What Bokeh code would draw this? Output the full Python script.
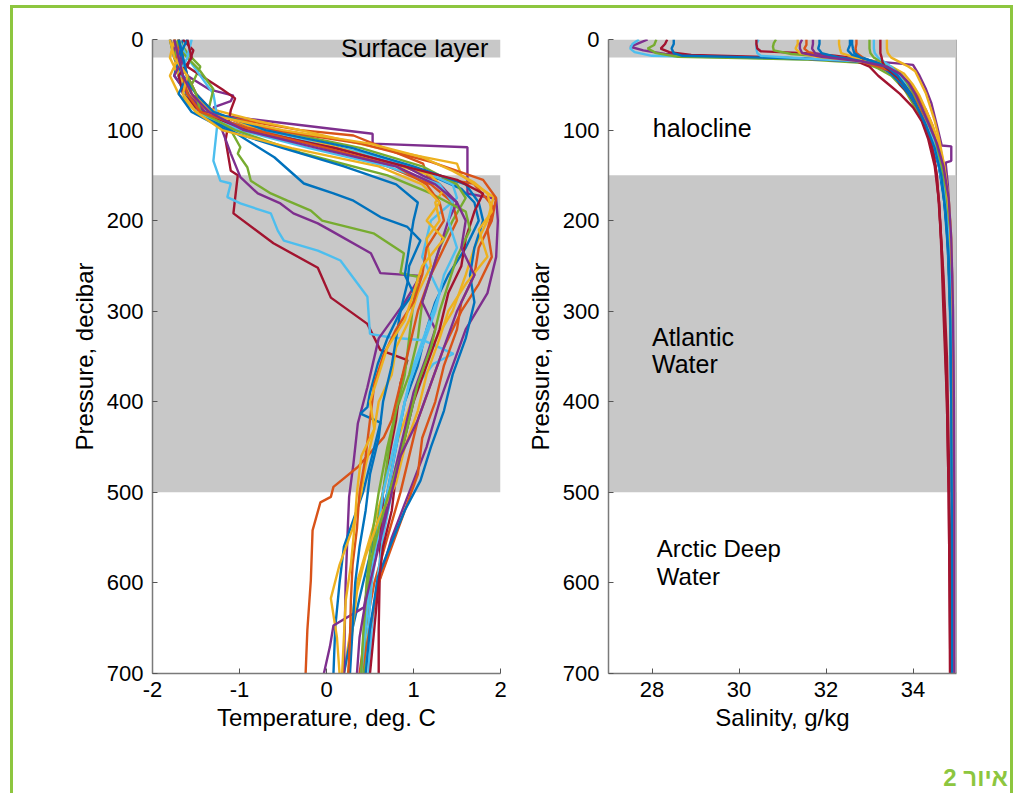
from bokeh.plotting import figure
from bokeh.models import Range1d, BoxAnnotation, Label, FixedTicker, Span, Div, PrintfTickFormatter
from bokeh.layouts import row, column
from bokeh.embed import file_html
from bokeh.resources import INLINE

# ---------------- DATA ----------------
# MATLAB default colour order
BLUE, RED, YELLOW, PURPLE, GREEN, CYAN, DARKRED = (
    "#0072BD", "#D95319", "#EDB120", "#7E2F8E", "#77AC30", "#4DBEEE", "#A2142F")

temp_ticks = [-2, -1, 0, 1, 2]
sal_ticks = [28, 30, 32, 34]
pressure_ticks = [0, 100, 200, 300, 400, 500, 600, 700]

# Temperature profiles (pressure in decibar, temperature in deg C)
t01_p = [0, 10, 25, 40, 55, 62, 68, 75, 84, 104, 115, 119, 170, 176, 200, 240, 280, 320, 360, 400, 450, 500, 550, 600, 650, 700]
t01_t = [-1.75, -1.72, -1.65, -1.6, -1.35, -1.07, -1.1, -1.3, -1.22, 0.53, 0.53, 1.62, 1.62, 1.95, 1.97, 1.95, 1.85, 1.6, 1.45, 1.3, 1.15, 0.95, 0.75, 0.6, 0.5, 0.42]
t02_p = [0, 15, 30, 50, 70, 85, 100, 106, 137, 152, 159, 185, 210, 240, 270, 300, 340, 380, 420, 460, 500, 550, 600, 650, 700]
t02_t = [-1.7, -1.75, -1.72, -1.62, -1.55, -1.2, -0.3, 0.31, 1.11, 1.16, 1.69, 1.92, 1.85, 1.9, 1.75, 1.55, 1.35, 1.2, 1.05, 0.95, 0.85, 0.7, 0.55, 0.45, 0.38]
t03_p = [0, 20, 40, 60, 75, 90, 100, 120, 137, 150, 174, 200, 230, 260, 300, 340, 380, 420, 460, 500, 550, 600, 650, 700]
t03_t = [-1.8, -1.75, -1.7, -1.6, -1.4, -0.8, -0.3, 0.6, 1.5, 1.55, 1.92, 1.85, 1.7, 1.6, 1.45, 1.2, 1.05, 0.9, 0.75, 0.65, 0.5, 0.35, 0.28, 0.2]
t04_p = [0, 20, 40, 60, 80, 95, 110, 130, 150, 165, 180, 200, 230, 260, 290, 320, 360, 400, 450, 500, 550, 600, 650, 700]
t04_t = [-1.65, -1.7, -1.75, -1.6, -1.45, -1.0, -0.3, 0.6, 1.2, 1.55, 1.7, 1.75, 1.6, 1.4, 1.25, 1.15, 1.05, 0.9, 0.8, 0.7, 0.55, 0.42, 0.3, 0.2]
t05_p = [0, 20, 45, 70, 90, 105, 125, 145, 160, 175, 200, 240, 280, 320, 360, 400, 450, 500, 550, 600, 650, 700]
t05_t = [-1.6, -1.55, -1.7, -1.55, -1.2, -0.5, 0.4, 1.1, 1.45, 1.5, 1.2, 1.1, 1.3, 1.15, 1.0, 0.9, 0.8, 0.7, 0.6, 0.52, 0.48, 0.45]
t06_p = [0, 15, 30, 50, 65, 80, 100, 120, 140, 160, 175, 200, 230, 260, 290, 330, 370, 410, 450, 500, 550, 600, 650, 700]
t06_t = [-1.7, -1.6, -1.45, -1.55, -1.65, -1.4, -0.6, 0.4, 1.1, 1.5, 1.6, 1.45, 1.3, 1.2, 1.1, 1.05, 0.95, 0.8, 0.7, 0.6, 0.52, 0.46, 0.43, 0.4]
t07_p = [0, 12, 30, 55, 65, 78, 111, 145, 150, 192, 225, 252, 285, 314, 343, 354, 380, 420, 460, 500, 550, 600, 650, 700]
t07_t = [-1.65, -1.53, -1.6, -1.2, -1.05, -1.1, -1.16, -1.1, -1.02, -1.07, -0.61, -0.1, 0.05, 0.47, 0.62, 0.93, 0.85, 0.8, 0.72, 0.65, 0.62, 0.61, 0.6, 0.6]
t08_p = [0, 20, 40, 60, 89, 134, 156, 159, 174, 181, 192, 211, 222, 233, 244, 284, 325, 329, 332, 347, 358, 380, 420, 460, 500, 550, 600, 650, 700]
t08_t = [-1.7, -1.6, -1.45, -1.3, -1.25, -1.3, -1.22, -1.1, -1.14, -0.99, -0.64, -0.56, -0.49, -0.1, 0.16, 0.47, 0.5, 0.74, 1.11, 1.46, 1.23, 1.05, 0.95, 0.85, 0.75, 0.65, 0.58, 0.52, 0.48]
t09_p = [0, 20, 40, 60, 80, 100, 126, 152, 170, 181, 192, 203, 211, 236, 258, 261, 290, 330, 384, 424, 468, 505, 550, 600, 650, 700]
t09_t = [-1.8, -1.7, -1.6, -1.5, -1.35, -1.2, -1.1, -0.99, -0.79, -0.53, -0.38, -0.1, 0.05, 0.51, 0.62, 1.08, 0.9, 0.6, 0.47, 0.36, 0.31, 0.26, 0.24, 0.22, 0.21, 0.2]
t10_p = [0, 15, 35, 55, 75, 100, 119, 126, 141, 156, 170, 178, 189, 200, 214, 236, 258, 262, 290, 330, 370, 410, 450, 500, 550, 600, 650, 700]
t10_t = [-1.75, -1.65, -1.45, -1.3, -1.35, -1.1, -0.99, -1.02, -0.91, -0.87, -0.64, -0.45, -0.18, -0.05, 0.54, 0.89, 0.85, 1.05, 1.0, 0.95, 0.9, 0.8, 0.72, 0.65, 0.55, 0.5, 0.45, 0.43]
t11_p = [0, 20, 40, 60, 80, 100, 120, 140, 160, 180, 200, 230, 260, 300, 340, 380, 420, 439, 472, 494, 505, 511, 542, 597, 652, 700]
t11_t = [-1.7, -1.65, -1.6, -1.5, -1.3, -0.8, 0.0, 0.7, 1.2, 1.45, 1.5, 1.35, 1.2, 1.05, 0.95, 0.85, 0.75, 0.66, 0.36, 0.08, 0.05, -0.07, -0.16, -0.18, -0.22, -0.24]
t12_p = [0, 20, 40, 60, 80, 100, 130, 159, 170, 178, 196, 207, 222, 250, 269, 300, 330, 358, 390, 406, 413, 423, 450, 500, 560, 600, 650, 700]
t12_t = [-1.8, -1.75, -1.65, -1.6, -1.5, -1.1, -0.6, -0.26, 0.08, 0.31, 0.62, 0.93, 1.08, 0.95, 0.93, 0.85, 0.7, 0.59, 0.5, 0.47, 0.39, 0.62, 0.55, 0.42, 0.2, 0.15, 0.1, 0.08]
t13_p = [0, 20, 40, 60, 80, 95, 110, 130, 150, 165, 180, 200, 220, 250, 280, 310, 340, 370, 400, 430, 470, 500, 540, 580, 617, 660, 700]
t13_t = [-1.75, -1.8, -1.7, -1.55, -1.3, -0.9, -0.2, 0.5, 1.2, 1.35, 1.25, 1.3, 1.15, 1.2, 1.05, 0.95, 0.8, 0.75, 0.6, 0.55, 0.45, 0.4, 0.3, 0.15, 0.05, 0.12, 0.15]
t14_p = [0, 20, 40, 60, 80, 100, 115, 135, 155, 175, 200, 230, 260, 290, 320, 360, 400, 440, 480, 520, 560, 600, 650, 700]
t14_t = [-1.7, -1.72, -1.6, -1.55, -1.4, -0.6, 0.4, 1.2, 1.8, 1.95, 1.9, 1.75, 1.7, 1.55, 1.5, 1.35, 1.25, 1.1, 1.05, 0.9, 0.75, 0.6, 0.5, 0.4]
t15_p = [0, 20, 40, 60, 80, 100, 120, 140, 160, 180, 200, 230, 260, 290, 330, 370, 410, 450, 487, 520, 557, 594, 650, 700]
t15_t = [-1.6, -1.7, -1.65, -1.5, -1.3, -0.7, 0.3, 1.0, 1.6, 1.75, 1.8, 1.7, 1.65, 1.7, 1.6, 1.45, 1.35, 1.2, 1.08, 0.9, 0.74, 0.59, 0.5, 0.45]
t16_p = [0, 20, 40, 60, 80, 100, 120, 140, 160, 180, 200, 230, 260, 290, 320, 350, 390, 430, 470, 510, 550, 590, 627, 647, 670, 700]
t16_t = [-1.7, -1.65, -1.75, -1.6, -1.4, -1.0, 0.1, 0.9, 1.3, 1.5, 1.4, 1.3, 1.2, 1.1, 1.25, 1.15, 1.0, 0.9, 0.8, 0.7, 0.62, 0.5, 0.43, 0.08, 0.04, -0.03]
t17_p = [0, 20, 40, 60, 80, 100, 120, 140, 160, 180, 200, 230, 260, 300, 340, 380, 420, 460, 500, 550, 600, 650, 700]
t17_t = [-1.55, -1.6, -1.7, -1.65, -1.5, -1.0, -0.2, 0.7, 1.3, 1.45, 1.4, 1.5, 1.35, 1.25, 1.1, 0.95, 0.85, 0.75, 0.65, 0.58, 0.5, 0.45, 0.4]
t18_p = [0, 20, 40, 60, 80, 100, 120, 140, 155, 170, 190, 220, 250, 280, 320, 360, 400, 440, 480, 520, 560, 600, 650, 700]
t18_t = [-1.6, -1.55, -1.7, -1.65, -1.45, -0.9, 0.1, 0.9, 1.5, 1.8, 1.7, 1.6, 1.55, 1.4, 1.3, 1.15, 1.0, 0.9, 0.8, 0.75, 0.65, 0.6, 0.55, 0.5]
t19_p = [0, 20, 40, 60, 80, 100, 115, 130, 145, 158, 170, 190, 210, 240, 270, 300, 330, 370, 410, 450, 490, 530, 570, 610, 650, 700]
t19_t = [-1.75, -1.7, -1.8, -1.7, -1.5, -0.5, 0.5, 1.1, 1.45, 1.7, 1.85, 1.9, 1.75, 1.85, 1.6, 1.4, 1.3, 1.15, 1.05, 0.9, 0.8, 0.6, 0.45, 0.35, 0.3, 0.25]
t20_p = [0, 20, 40, 60, 80, 100, 125, 150, 170, 190, 210, 240, 270, 300, 340, 380, 420, 460, 500, 540, 580, 620, 660, 700]
t20_t = [-1.7, -1.75, -1.6, -1.5, -1.45, -1.05, -0.3, 0.7, 1.2, 1.6, 1.65, 1.5, 1.4, 1.3, 1.2, 1.05, 0.95, 0.85, 0.72, 0.6, 0.5, 0.45, 0.42, 0.4]
t21_p = [0, 20, 40, 60, 80, 100, 120, 140, 160, 180, 200, 230, 260, 280, 300, 330, 360, 400, 440, 480, 520, 560, 600, 650, 700]
t21_t = [-1.7, -1.65, -1.6, -1.7, -1.55, -1.15, -0.5, 0.2, 0.8, 1.05, 1.0, 0.95, 0.9, 1.0, 0.85, 0.8, 0.75, 0.65, 0.6, 0.5, 0.45, 0.38, 0.33, 0.3, 0.27]
t22_p = [0, 20, 40, 60, 80, 100, 120, 140, 160, 180, 200, 230, 260, 290, 320, 350, 380, 420, 460, 500, 540, 580, 620, 660, 700]
t22_t = [-1.75, -1.7, -1.65, -1.6, -1.45, -0.85, 0.0, 0.8, 1.15, 1.3, 1.35, 1.15, 1.1, 1.0, 0.8, 0.65, 0.55, 0.5, 0.45, 0.38, 0.35, 0.3, 0.28, 0.27, 0.25]
t23_p = [0, 20, 40, 60, 80, 100, 120, 140, 160, 180, 200, 220, 250, 280, 310, 340, 370, 400, 430, 460, 500, 540, 580, 620, 660, 700]
t23_t = [-1.8, -1.75, -1.6, -1.65, -1.5, -1.2, -0.4, 0.6, 1.1, 1.3, 1.15, 1.35, 1.1, 1.0, 0.9, 0.7, 0.6, 0.5, 0.55, 0.4, 0.35, 0.32, 0.28, 0.22, 0.2, 0.18]
t24_p = [0, 20, 40, 60, 80, 100, 120, 140, 160, 180, 200, 230, 260, 300, 340, 380, 420, 460, 500, 540, 580, 620, 660, 700]
t24_t = [-1.75, -1.7, -1.65, -1.55, -1.35, -0.95, -0.1, 0.8, 1.25, 1.5, 1.6, 1.55, 1.7, 1.5, 1.35, 1.2, 1.05, 0.85, 0.75, 0.65, 0.55, 0.45, 0.38, 0.35]

temp_profiles = [
    (t01_p, t01_t, PURPLE), (t02_p, t02_t, RED), (t03_p, t03_t, YELLOW), (t04_p, t04_t, BLUE),
    (t05_p, t05_t, CYAN), (t06_p, t06_t, GREEN), (t07_p, t07_t, DARKRED), (t08_p, t08_t, CYAN),
    (t09_p, t09_t, PURPLE), (t10_p, t10_t, GREEN), (t11_p, t11_t, RED), (t12_p, t12_t, BLUE),
    (t13_p, t13_t, YELLOW), (t14_p, t14_t, RED), (t15_p, t15_t, BLUE), (t16_p, t16_t, PURPLE),
    (t17_p, t17_t, CYAN), (t18_p, t18_t, DARKRED), (t19_p, t19_t, YELLOW), (t20_p, t20_t, GREEN),
    (t21_p, t21_t, BLUE), (t22_p, t22_t, RED), (t23_p, t23_t, YELLOW), (t24_p, t24_t, PURPLE),
]

# Salinity profiles (pressure in decibar, salinity in g/kg)
s01_p = [0, 4, 8, 12, 16, 19, 22, 26, 32, 40, 55, 70, 90, 110, 140, 180, 230, 300, 400, 500, 600, 700]
s01_s = [27.9, 27.7, 27.5, 27.8, 28.3, 29.5, 32.0, 33.0, 33.3, 33.6, 33.9, 34.1, 34.3, 34.5, 34.65, 34.75, 34.82, 34.86, 34.88, 34.9, 34.91, 34.92]
s02_p = [0, 5, 10, 14, 18, 20, 23, 28, 35, 45, 60, 80, 100, 130, 170, 220, 300, 400, 500, 600, 700]
s02_s = [27.7, 27.55, 27.5, 27.6, 28.0, 30.0, 32.5, 33.2, 33.5, 33.7, 33.95, 34.15, 34.35, 34.55, 34.7, 34.8, 34.86, 34.88, 34.9, 34.91, 34.92]
s03_p = [0, 6, 10, 15, 19, 22, 26, 32, 40, 55, 75, 95, 120, 150, 200, 260, 330, 450, 550, 700]
s03_s = [28.1, 28.05, 27.9, 28.1, 28.6, 31.5, 32.9, 33.2, 33.5, 33.8, 34.05, 34.3, 34.5, 34.65, 34.78, 34.84, 34.87, 34.9, 34.91, 34.92]
s04_p = [0, 5, 10, 14, 17, 20, 24, 30, 40, 50, 60, 75, 90, 110, 140, 180, 230, 300, 400, 500, 600, 700]
s04_s = [28.35, 28.3, 28.2, 28.4, 28.9, 31.0, 32.7, 33.0, 33.2, 33.45, 33.7, 34.0, 34.2, 34.35, 34.5, 34.6, 34.65, 34.7, 34.78, 34.82, 34.84, 34.85]
s05_p = [0, 5, 10, 15, 18, 21, 25, 30, 40, 55, 70, 90, 110, 140, 180, 230, 300, 400, 500, 600, 700]
s05_s = [28.5, 28.5, 28.45, 28.5, 28.7, 31.5, 33.0, 33.3, 33.55, 33.85, 34.05, 34.25, 34.4, 34.6, 34.72, 34.8, 34.85, 34.88, 34.9, 34.9, 34.91]
s06_p = [0, 5, 10, 15, 18, 21, 24, 28, 35, 45, 60, 80, 100, 125, 160, 210, 280, 400, 500, 600, 700]
s06_s = [30.45, 30.4, 30.4, 30.42, 30.5, 31.5, 32.8, 33.3, 33.55, 33.8, 34.0, 34.2, 34.4, 34.55, 34.7, 34.8, 34.85, 34.88, 34.9, 34.91, 34.91]
s07_p = [0, 5, 10, 13, 15, 18, 22, 26, 32, 40, 50, 60, 75, 95, 120, 150, 200, 260, 350, 450, 550, 700]
s07_s = [30.4, 30.4, 30.42, 30.5, 31.5, 32.2, 32.9, 33.3, 33.5, 33.6, 33.7, 33.9, 34.1, 34.3, 34.45, 34.55, 34.62, 34.7, 34.78, 34.82, 34.85, 34.86]
s08_p = [0, 4, 8, 12, 16, 20, 25, 30, 38, 48, 60, 80, 100, 130, 170, 220, 300, 400, 500, 600, 700]
s08_s = [30.85, 30.8, 30.78, 30.8, 31.2, 32.3, 33.1, 33.4, 33.6, 33.85, 34.0, 34.25, 34.45, 34.6, 34.72, 34.8, 34.86, 34.89, 34.9, 34.91, 34.92]
s09_p = [0, 5, 10, 15, 19, 23, 28, 35, 45, 55, 70, 90, 110, 140, 180, 230, 300, 400, 500, 600, 700]
s09_s = [31.35, 31.35, 31.3, 31.4, 31.8, 32.6, 33.3, 33.6, 33.85, 34.05, 34.2, 34.35, 34.5, 34.65, 34.78, 34.85, 34.88, 34.9, 34.91, 34.92, 34.92]
s10_p = [0, 6, 10, 14, 18, 22, 27, 33, 40, 50, 62, 78, 95, 120, 150, 200, 260, 350, 450, 550, 700]
s10_s = [31.55, 31.55, 31.5, 31.6, 32.0, 32.7, 33.3, 33.55, 33.75, 33.95, 34.1, 34.3, 34.45, 34.6, 34.72, 34.82, 34.87, 34.9, 34.9, 34.91, 34.91]
s11_p = [0, 5, 10, 15, 19, 23, 28, 40, 55, 70, 95, 105, 117, 118, 134, 136, 160, 200, 260, 350, 450, 550, 700]
s11_s = [31.7, 31.7, 31.68, 31.75, 32.2, 32.9, 34.0, 34.15, 34.3, 34.42, 34.55, 34.6, 34.66, 34.88, 34.88, 34.75, 34.8, 34.85, 34.9, 34.92, 34.93, 34.93, 34.94]
s12_p = [0, 5, 10, 15, 20, 24, 30, 38, 48, 60, 75, 95, 115, 140, 170, 210, 270, 350, 450, 550, 700]
s12_s = [31.85, 31.85, 31.82, 31.9, 32.3, 32.9, 33.3, 33.5, 33.7, 33.9, 34.1, 34.3, 34.45, 34.6, 34.7, 34.78, 34.84, 34.88, 34.9, 34.9, 34.91]
s13_p = [0, 5, 10, 15, 19, 24, 30, 38, 50, 62, 78, 95, 115, 140, 175, 220, 290, 400, 500, 600, 700]
s13_s = [32.3, 32.3, 32.32, 32.35, 32.6, 33.1, 33.5, 33.8, 34.0, 34.15, 34.3, 34.45, 34.6, 34.72, 34.82, 34.88, 34.9, 34.92, 34.92, 34.93, 34.93]
s14_p = [0, 6, 12, 17, 21, 26, 33, 40, 50, 62, 78, 100, 125, 150, 190, 240, 320, 420, 520, 620, 700]
s14_s = [32.55, 32.55, 32.5, 32.6, 32.9, 33.2, 33.45, 33.6, 33.75, 33.95, 34.15, 34.35, 34.55, 34.68, 34.78, 34.84, 34.88, 34.9, 34.9, 34.91, 34.91]
s15_p = [0, 5, 10, 15, 20, 25, 30, 35, 45, 55, 70, 90, 110, 135, 165, 210, 270, 360, 460, 560, 700]
s15_s = [32.7, 32.7, 32.68, 32.7, 32.85, 32.85, 33.2, 33.5, 33.7, 33.9, 34.1, 34.3, 34.45, 34.6, 34.72, 34.8, 34.86, 34.88, 34.9, 34.9, 34.91]
s16_p = [0, 5, 10, 15, 20, 25, 32, 40, 50, 62, 78, 95, 115, 140, 175, 220, 290, 400, 500, 600, 700]
s16_s = [33.0, 33.0, 33.0, 33.02, 33.1, 33.3, 33.55, 33.75, 33.9, 34.05, 34.22, 34.38, 34.52, 34.65, 34.76, 34.83, 34.87, 34.9, 34.9, 34.91, 34.91]
s17_p = [0, 5, 10, 15, 20, 25, 30, 38, 48, 60, 75, 92, 110, 135, 165, 210, 280, 380, 480, 580, 700]
s17_s = [33.1, 33.1, 33.1, 33.12, 33.2, 33.35, 33.5, 33.65, 33.8, 33.95, 34.1, 34.28, 34.45, 34.58, 34.7, 34.8, 34.86, 34.89, 34.9, 34.91, 34.92]
s18_p = [0, 5, 10, 15, 20, 25, 30, 36, 42, 50, 60, 75, 90, 110, 140, 180, 230, 300, 400, 500, 600, 700]
s18_s = [33.25, 33.25, 33.25, 33.25, 33.28, 33.3, 33.35, 33.5, 33.65, 33.8, 33.95, 34.1, 34.25, 34.4, 34.52, 34.6, 34.66, 34.72, 34.78, 34.82, 34.84, 34.86]
s19_p = [0, 5, 10, 15, 20, 25, 30, 35, 40, 50, 60, 75, 90, 110, 135, 165, 200, 260, 350, 450, 550, 700]
s19_s = [33.4, 33.4, 33.4, 33.42, 33.5, 33.7, 33.9, 34.05, 34.1, 34.2, 34.3, 34.4, 34.5, 34.6, 34.7, 34.78, 34.85, 34.9, 34.92, 34.93, 34.93, 34.94]
s20_p = [0, 5, 10, 15, 20, 26, 32, 40, 50, 60, 75, 95, 120, 150, 190, 240, 310, 400, 500, 600, 700]
s20_s = [32.6, 32.6, 32.62, 32.65, 32.8, 33.2, 33.45, 33.65, 33.8, 33.95, 34.1, 34.3, 34.5, 34.65, 34.75, 34.82, 34.86, 34.88, 34.89, 34.9, 34.9]
s21_p = [0, 5, 10, 15, 19, 24, 30, 38, 48, 60, 75, 95, 115, 140, 175, 220, 300, 400, 500, 600, 700]
s21_s = [31.45, 31.4, 31.4, 31.45, 31.9, 32.8, 33.4, 33.7, 33.9, 34.05, 34.2, 34.38, 34.55, 34.7, 34.82, 34.88, 34.92, 34.94, 34.95, 34.95, 34.95]

sal_profiles = [
    (s01_p, s01_s, PURPLE), (s02_p, s02_s, CYAN), (s03_p, s03_s, GREEN), (s04_p, s04_s, DARKRED),
    (s05_p, s05_s, BLUE), (s06_p, s06_s, CYAN), (s07_p, s07_s, DARKRED), (s08_p, s08_s, GREEN),
    (s09_p, s09_s, YELLOW), (s10_p, s10_s, RED), (s11_p, s11_s, PURPLE), (s12_p, s12_s, BLUE),
    (s13_p, s13_s, YELLOW), (s14_p, s14_s, BLUE), (s15_p, s15_s, RED), (s16_p, s16_s, GREEN),
    (s17_p, s17_s, CYAN), (s18_p, s18_s, DARKRED), (s19_p, s19_s, YELLOW), (s20_p, s20_s, BLUE),
    (s21_p, s21_s, PURPLE),
]

surface_layer = (0, 20)
atlantic_layer = (150, 500)
caption = "איור 2"

# ---------------- STYLE ----------------
FONT = "Liberation Sans"
BAND = "#c8c8c8"
FRAME_GREEN = "#8DC63F"
LINE_W = 2.4


def style_axes(p, xticks, xlabel):
    p.xaxis.ticker = FixedTicker(ticks=xticks)
    p.yaxis.ticker = FixedTicker(ticks=pressure_ticks)
    p.xaxis.formatter = PrintfTickFormatter(format="%d")
    p.yaxis.formatter = PrintfTickFormatter(format="%d")
    p.xaxis.axis_label = xlabel
    p.yaxis.axis_label = "Pressure, decibar"
    for ax in (p.xaxis[0], p.yaxis[0]):
        ax.axis_line_color = "#7a7a7a"
        ax.axis_line_width = 1.5
        ax.major_tick_line_color = "#555555"
        ax.major_tick_in = 5
        ax.major_tick_out = 0
        ax.minor_tick_line_color = None
        ax.major_label_text_font = FONT
        ax.major_label_text_font_size = "22px"
        ax.major_label_text_color = "black"
        ax.axis_label_text_font = FONT
        ax.axis_label_text_font_size = "24px"
        ax.axis_label_text_font_style = "normal"
        ax.axis_label_text_color = "black"
    p.xaxis.major_label_standoff = 8
    p.xaxis.axis_label_standoff = 4
    p.yaxis.major_label_standoff = 9
    p.yaxis.axis_label_standoff = 6
    p.xgrid.visible = False
    p.ygrid.visible = False
    p.outline_line_color = None
    p.background_fill_color = "white"
    p.border_fill_color = "white"


def add_bands(p):
    for top, bottom in (surface_layer, atlantic_layer):
        p.add_layout(BoxAnnotation(top=top, bottom=bottom, fill_color=BAND, fill_alpha=1.0,
                                   line_color=None, level="underlay"))


def add_label(p, x, y, text, size="25px", align="left"):
    p.add_layout(Label(x=x, y=y, text=text, text_font=FONT, text_font_size=size,
                       text_align=align, text_baseline="middle", text_color="black"))


# ---------------- LEFT: TEMPERATURE ----------------
p1 = figure(width=500, height=755, x_range=Range1d(-2, 2), y_range=Range1d(700, 0),
            output_backend="svg", toolbar_location=None,
            min_border_left=139, min_border_right=13, min_border_top=31, min_border_bottom=90)
style_axes(p1, temp_ticks, "Temperature, deg. C")
add_bands(p1)
for pp, tt, col in temp_profiles:
    p1.line(x=tt, y=pp, line_color=col, line_width=LINE_W)
add_label(p1, 1.86, 9, "Surface layer", align="right")

# ---------------- RIGHT: SALINITY ----------------
p2 = figure(width=497, height=755, x_range=Range1d(27, 35), y_range=Range1d(700, 0),
            output_backend="svg", toolbar_location=None,
            min_border_left=95, min_border_right=54, min_border_top=31, min_border_bottom=90)
style_axes(p2, sal_ticks, "Salinity, g/kg")
# right frame edge (drawn first so the grey bands hide it, as in the original)
p2.add_layout(Span(location=35, dimension="height", line_color="#555555", line_width=1.5,
                   level="underlay"))
add_bands(p2)
for pp, ss, col in sal_profiles:
    p2.line(x=ss, y=pp, line_color=col, line_width=LINE_W)

add_label(p2, 28.02, 98, "halocline")
add_label(p2, 28.0, 328, "Atlantic")
add_label(p2, 28.0, 358, "Water")
add_label(p2, 28.11, 562, "Arctic Deep", size="24px")
add_label(p2, 28.11, 593, "Water", size="24px")

cap = Div(text=caption, width=990, height=20,
          styles={"text-align": "right", "box-sizing": "border-box",
                  "width": "990px", "color": FRAME_GREEN,
                  "font-family": "'Liberation Sans', 'DejaVu Sans', sans-serif",
                  "font-size": "24px", "font-weight": "bold", "line-height": "20px"})

layout = column(row(p1, p2), cap, styles={
    "margin-left": "10px",
    "margin-top": "5px",
    "box-sizing": "content-box",
    "width": "997px",
    "border-left": f"3px solid {FRAME_GREEN}",
    "border-top": f"3px solid {FRAME_GREEN}",
    "border-right": f"3px solid {FRAME_GREEN}",
    "background-color": "white",
})

open("out.html", "w").write(file_html(layout, INLINE))
